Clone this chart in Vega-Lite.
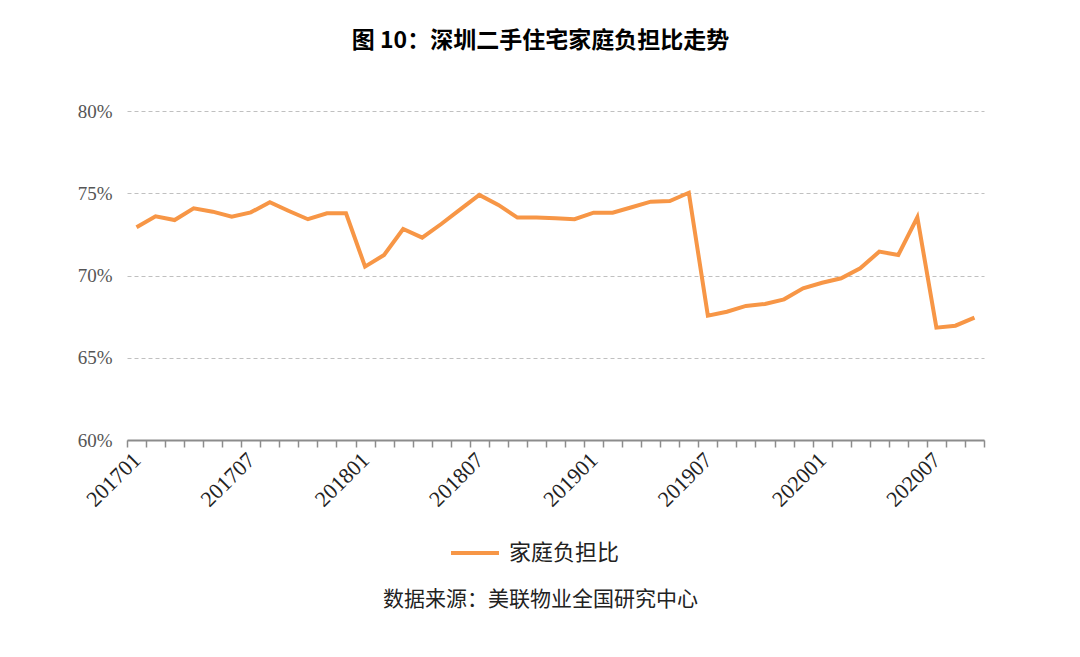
{
  "$schema": "https://vega.github.io/schema/vega-lite/v6.json",
  "width": 857,
  "height": 329,
  "autosize": {"type": "none"},
  "padding": {"left": 127, "top": 111, "right": 96, "bottom": 217},
  "background": "#ffffff",
  "title": {
    "text": "图 10：深圳二手住宅家庭负担比走势",
    "font": "Noto Sans CJK SC",
    "fontSize": 23,
    "fontWeight": "bold",
    "color": "#000000",
    "anchor": "middle",
    "dx": -15,
    "offset": 49
  },
  "config": {"view": {"stroke": null}},
  "data": {
    "values": [
      {"month": "201701", "ratio": 0.7293},
      {"month": "201702", "ratio": 0.7360},
      {"month": "201703", "ratio": 0.7337},
      {"month": "201704", "ratio": 0.7408},
      {"month": "201705", "ratio": 0.7388},
      {"month": "201706", "ratio": 0.7358},
      {"month": "201707", "ratio": 0.7384},
      {"month": "201708", "ratio": 0.7445},
      {"month": "201709", "ratio": 0.7392},
      {"month": "201710", "ratio": 0.7342},
      {"month": "201711", "ratio": 0.7378},
      {"month": "201712", "ratio": 0.7378},
      {"month": "201801", "ratio": 0.7054},
      {"month": "201802", "ratio": 0.7125},
      {"month": "201803", "ratio": 0.7283},
      {"month": "201804", "ratio": 0.7230},
      {"month": "201805", "ratio": 0.7313},
      {"month": "201806", "ratio": 0.7402},
      {"month": "201807", "ratio": 0.7490},
      {"month": "201808", "ratio": 0.7429},
      {"month": "201809", "ratio": 0.7352},
      {"month": "201810", "ratio": 0.7352},
      {"month": "201811", "ratio": 0.7348},
      {"month": "201812", "ratio": 0.7342},
      {"month": "201901", "ratio": 0.7382},
      {"month": "201902", "ratio": 0.7382},
      {"month": "201903", "ratio": 0.7415},
      {"month": "201904", "ratio": 0.7449},
      {"month": "201905", "ratio": 0.7453},
      {"month": "201906", "ratio": 0.7503},
      {"month": "201907", "ratio": 0.6756},
      {"month": "201908", "ratio": 0.6780},
      {"month": "201909", "ratio": 0.6815},
      {"month": "201910", "ratio": 0.6827},
      {"month": "201911", "ratio": 0.6855},
      {"month": "201912", "ratio": 0.6922},
      {"month": "202001", "ratio": 0.6956},
      {"month": "202002", "ratio": 0.6983},
      {"month": "202003", "ratio": 0.7044},
      {"month": "202004", "ratio": 0.7145},
      {"month": "202005", "ratio": 0.7125},
      {"month": "202006", "ratio": 0.7354},
      {"month": "202007", "ratio": 0.6683},
      {"month": "202008", "ratio": 0.6695},
      {"month": "202009", "ratio": 0.6744}
    ]
  },
  "mark": {"type": "line", "strokeWidth": 4, "strokeJoin": "miter"},
  "encoding": {
    "x": {
      "field": "month",
      "type": "ordinal",
      "scale": {"paddingInner": 0, "paddingOuter": 0},
      "axis": {
        "tickBand": "extent",
        "domainColor": "#8c8c8c",
        "domainWidth": 2,
        "tickColor": "#8c8c8c",
        "tickWidth": 1.5,
        "tickSize": 7,
        "labelAngle": -45,
        "labelAlign": "right",
        "labelBaseline": "middle",
        "labelFont": "Liberation Serif",
        "labelFontSize": 22,
        "labelColor": "#222222",
        "labelPadding": 9,
        "labelExpr": "(substring(datum.value,4)=='01'||substring(datum.value,4)=='07') ? datum.value : ''",
        "labelOverlap": false,
        "title": "数据来源：美联物业全国研究中心",
        "titleFont": "Noto Sans CJK SC",
        "titleFontSize": 21,
        "titleFontWeight": "normal",
        "titleColor": "#222222",
        "titleX": 413,
        "titleY": 148,
        "titleAlign": "center",
        "titleBaseline": "top"
      }
    },
    "y": {
      "field": "ratio",
      "type": "quantitative",
      "scale": {"domain": [0.6, 0.8], "nice": false, "zero": false},
      "axis": {
        "values": [0.6, 0.65, 0.7, 0.75, 0.8],
        "format": ".0%",
        "domain": false,
        "ticks": false,
        "labelFont": "Liberation Serif",
        "labelFontSize": 19,
        "labelColor": "#555555",
        "labelPadding": 15,
        "gridColor": "#c0c0c0",
        "gridDash": [4, 3],
        "gridWidth": 1,
        "title": null
      }
    },
    "color": {
      "datum": "家庭负担比",
      "type": "nominal",
      "scale": {"range": ["#F79646"]},
      "legend": {
        "orient": "none",
        "legendX": 322,
        "legendY": 416,
        "title": null,
        "symbolType": "stroke",
        "symbolSize": 2300,
        "symbolStrokeWidth": 4,
        "labelFont": "Noto Sans CJK SC",
        "labelFontSize": 22,
        "labelColor": "#222222",
        "labelOffset": 8
      }
    }
  }
}
